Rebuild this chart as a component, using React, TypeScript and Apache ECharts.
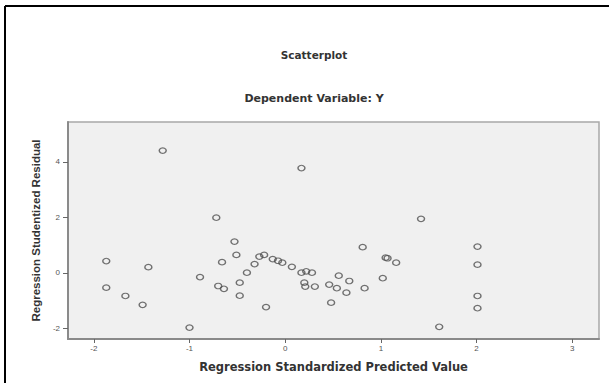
import React, { useEffect, useRef } from "react";
import * as echarts from "echarts";

const chartTitle = "Scatterplot";
const chartSubtitle = "Dependent Variable: Y";
const xAxisTitle = "Regression Standardized Predicted Value";
const yAxisTitle = "Regression Studentized Residual";

const xTicks = [-2, -1, 0, 1, 2, 3];
const yTicks = [-2, 0, 2, 4];

// Regression standardized predicted values
const predicted = [
  -1.28, 0.17, -0.72, -0.53, -0.51, -1.87, -1.43, -0.66, -0.89, -1.87,
  -1.67, -1.49, -0.70, -0.64, -0.475, -0.475, -0.40, -0.32, -0.27, -0.22,
  -0.13, -0.075, -0.03, 0.07, 0.17, 0.22, 0.28, 0.20, 0.21, 0.31,
  -0.20, 0.46, 1.42, 0.81, 2.01, 2.01, 1.05, 1.07, 1.16, 0.56,
  0.67, 1.02, 0.54, 0.83, 0.64, 0.48, 2.01, 2.01, -1.0, 1.61,
];

// Regression studentized residuals
const residuals = [
  4.41, 3.78, 1.99, 1.13, 0.65, 0.43, 0.21, 0.39, -0.15, -0.53,
  -0.83, -1.15, -0.47, -0.57, -0.35, -0.82, 0.01, 0.32, 0.59, 0.65,
  0.50, 0.44, 0.37, 0.22, 0.01, 0.06, 0.01, -0.35, -0.49, -0.49,
  -1.23, -0.42, 1.95, 0.93, 0.95, 0.30, 0.55, 0.53, 0.37, -0.10,
  -0.29, -0.19, -0.55, -0.55, -0.71, -1.07, -0.83, -1.27, -1.97, -1.94,
];

export default function App() {
  const ref = useRef<HTMLDivElement>(null);

  useEffect(() => {
    if (!ref.current) return;
    const chart = echarts.init(ref.current, null, { renderer: "svg" });
    const points = predicted.map((x, i) => [x, residuals[i]]);
    const hFont = "'DejaVu Sans', sans-serif";
    const lFont = "'Liberation Sans', Arial, sans-serif";
    chart.setOption({
      animation: false,
      backgroundColor: "#ffffff",
      title: [
        {
          text: chartTitle,
          left: 309,
          top: 44,
          textAlign: "center",
          textStyle: { fontSize: 10.5, fontWeight: "bold", color: "#333", fontFamily: hFont },
        },
        {
          text: chartSubtitle,
          left: 309,
          top: 88,
          textAlign: "center",
          textStyle: { fontSize: 11, fontWeight: "bold", color: "#333", fontFamily: hFont },
        },
      ],
      grid: {
        left: 68,
        top: 122,
        right: 10,
        bottom: 44,
        show: true,
        backgroundColor: "#f0f0f0",
        borderColor: "#a8a8a8",
        borderWidth: 1.5,
      },
      xAxis: {
        type: "value",
        min: -2.27,
        max: 3.28,
        name: xAxisTitle,
        nameLocation: "middle",
        nameGap: 22,
        nameTextStyle: { fontSize: 11.5, fontWeight: "bold", color: "#333", fontFamily: hFont },
        axisLine: { show: true, onZero: false, lineStyle: { color: "#8a8a8a", width: 2 } },
        axisTick: { show: true, length: 4, customValues: xTicks, lineStyle: { color: "#666" } },
        axisLabel: {
          customValues: xTicks,
          fontSize: 8,
          color: "#555",
          margin: 5,
          fontFamily: lFont,
        },
        splitLine: { show: false },
      },
      yAxis: {
        type: "value",
        min: -2.38,
        max: 5.44,
        name: yAxisTitle,
        nameLocation: "middle",
        nameRotate: 90,
        nameGap: 25,
        nameTextStyle: { fontSize: 11.5, fontWeight: "bold", color: "#333", fontFamily: lFont },
        axisLine: { show: true, onZero: false, lineStyle: { color: "#8a8a8a", width: 2 } },
        axisTick: { show: true, length: 5, customValues: yTicks, lineStyle: { color: "#666" } },
        axisLabel: {
          customValues: yTicks,
          fontSize: 8,
          color: "#555",
          margin: 8,
          fontFamily: lFont,
        },
        splitLine: { show: false },
      },
      graphic: [
        {
          type: "line",
          shape: { x1: 5, y1: 6, x2: 609, y2: 6 },
          style: { stroke: "#000", lineWidth: 2 },
        },
        {
          type: "line",
          shape: { x1: 5, y1: 6, x2: 5, y2: 383 },
          style: { stroke: "#000", lineWidth: 2 },
        },
      ],
      series: [
        {
          type: "scatter",
          data: points,
          symbol: "circle",
          symbolSize: [7, 5.5],
          itemStyle: { color: "rgba(0,0,0,0)", borderColor: "#505050", borderWidth: 1.3 },
        },
      ],
    });
    return () => chart.dispose();
  }, []);

  return (
    <div
      ref={ref}
      style={{ position: "fixed", left: 0, top: 0, width: 609, height: 383 }}
    />
  );
}
